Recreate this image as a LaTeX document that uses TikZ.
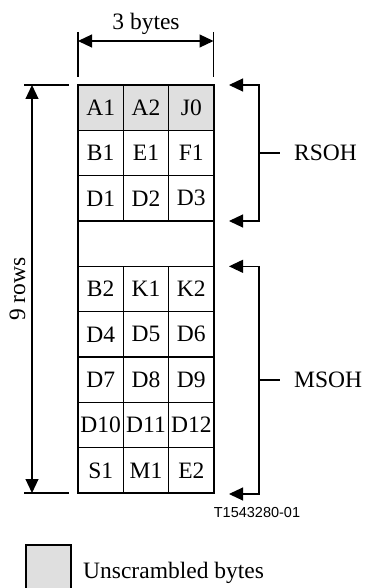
\documentclass[tikz,border=0pt]{standalone}
\usepackage{fontspec}
\setmainfont{Liberation Serif}
\newfontfamily\labsans{Liberation Sans}
\usetikzlibrary{arrows.meta}
\newcommand\bigtxt{\fontsize{23.5}{28}\selectfont}
\begin{document}
\begin{tikzpicture}[x=1pt,y=-1pt,
  cell/.style={draw, line width=1.3pt, minimum width=45.33pt, minimum height=45.33pt, inner sep=0pt, font=\bigtxt},
  hdr/.style={cell, fill=gray!25},
  wide/.style={cell, minimum width=136pt},
  dim/.style={line width=1.1pt},
  darr/.style={dim, {Triangle[length=14pt,width=13pt]}-{Triangle[length=14pt,width=13pt]}},
  lab/.style={font=\bigtxt, inner sep=0pt}]
\useasboundingbox (0,0) rectangle (364,588);
% grid
\node[hdr] (a1) at (100.67,107.67) {A1};
\node[hdr] (a2) at (146,107.67) {A2};
\node[hdr] (j0) at (191.33,107.67) {J0};
\node[cell] (b1) at (100.67,153) {B1};
\node[cell] (e1) at (146,153) {E1};
\node[cell] (f1) at (191.33,153) {F1};
\node[cell] (d1) at (100.67,198.33) {D1};
\node[cell] (d2) at (146,198.33) {D2};
\node[cell] (d3) at (191.33,198.33) {D3};
\node[wide] (empty) at (146,243.67) {};
\node[cell] (b2) at (100.67,289) {B2};
\node[cell] (k1) at (146,289) {K1};
\node[cell] (k2) at (191.33,289) {K2};
\node[cell] (d4) at (100.67,334.33) {D4};
\node[cell] (d5) at (146,334.33) {D5};
\node[cell] (d6) at (191.33,334.33) {D6};
\node[cell] (d7) at (100.67,379.67) {D7};
\node[cell] (d8) at (146,379.67) {D8};
\node[cell] (d9) at (191.33,379.67) {D9};
\node[cell] (d10) at (100.67,425) {D10};
\node[cell] (d11) at (146,425) {D11};
\node[cell] (d12) at (191.33,425) {D12};
\node[cell] (s1) at (100.67,470.33) {S1};
\node[cell] (m1) at (146,470.33) {M1};
\node[cell] (e2) at (191.33,470.33) {E2};
% 3 bytes dimension
\coordinate (wlt) at (78,32); \coordinate (wlb) at (78,77);
\coordinate (wrt) at (213.5,32); \coordinate (wrb) at (213.5,77);
\coordinate (wl) at (78,41); \coordinate (wr) at (213.5,41);
\draw[dim] (wlt) -- (wlb);
\draw[dim] (wrt) -- (wrb);
\draw[darr] (wl) -- (wr);
\node[lab, anchor=base] (bytes) at (146,30) {3 bytes};
% 9 rows dimension
\coordinate (htl) at (24,85); \coordinate (htr) at (69,85);
\coordinate (hbl) at (24,493); \coordinate (hbr) at (69,493);
\coordinate (ht) at (32,85); \coordinate (hb) at (32,493);
\draw[dim] (htl) -- (htr);
\draw[dim] (hbl) -- (hbr);
\draw[darr] (ht) -- (hb);
\node[lab, rotate=90] (rows) at (17.5,289) {9 rows};
% RSOH bracket
\coordinate (r1) at (229,85); \coordinate (r2) at (259,85);
\coordinate (r3) at (259,221); \coordinate (r4) at (229,221);
\coordinate (rm) at (259,153); \coordinate (rt) at (280,153);
\draw[darr] (r1) -- (r2) -- (r3) -- (r4);
\draw[dim] (rm) -- (rt);
\node[lab, anchor=west] (rsoh) at (294,153) {RSOH};
% MSOH bracket
\coordinate (m1a) at (229,266.33); \coordinate (m2) at (259,266.33);
\coordinate (m3) at (259,494); \coordinate (m4) at (229,494);
\coordinate (mm) at (259,380); \coordinate (mt) at (280,380);
\draw[darr] (m1a) -- (m2) -- (m3) -- (m4);
\draw[dim] (mm) -- (mt);
\node[lab, anchor=west] (msoh) at (294,380) {MSOH};
% figure id
\node[font=\labsans\fontsize{14.5}{17}\selectfont, inner sep=0pt, anchor=base] (fid) at (257,517) {T1543280-01};
% legend
\node[draw, line width=1.1pt, fill=gray!25, minimum width=45pt, minimum height=45pt, inner sep=0pt] (legbox) at (48.5,567.5) {};
\node[lab, anchor=base west] (legtxt) at (83,578) {Unscrambled bytes};
\end{tikzpicture}
\end{document}
